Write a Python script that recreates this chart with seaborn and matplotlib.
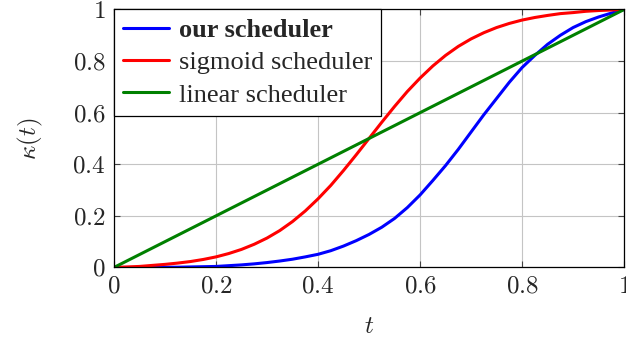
import matplotlib
matplotlib.use("Agg")
import matplotlib.pyplot as plt
import seaborn as sns
import pandas as pd

# values
t = [0.0, 0.025, 0.05, 0.075, 0.1, 0.125, 0.15, 0.175, 0.2, 0.225,
     0.25, 0.275, 0.3, 0.325, 0.35, 0.375, 0.4, 0.425, 0.45, 0.475,
     0.5, 0.525, 0.55, 0.575, 0.6, 0.625, 0.65, 0.675, 0.7, 0.725,
     0.75, 0.775, 0.8, 0.825, 0.85, 0.875, 0.9, 0.925, 0.95, 0.975, 1.0]
our = [0.0, 0.0, 0.0, 0.0, 0.001, 0.001, 0.002, 0.003, 0.004, 0.007,
       0.010, 0.014, 0.019, 0.025, 0.032, 0.041, 0.051, 0.065, 0.083, 0.104,
       0.128, 0.156, 0.190, 0.232, 0.281, 0.337, 0.395, 0.458, 0.525, 0.592,
       0.655, 0.718, 0.775, 0.822, 0.865, 0.900, 0.93, 0.953, 0.971, 0.986, 1.0]
sigmoid = [0.0, 0.002, 0.004, 0.008, 0.012, 0.017, 0.023, 0.031, 0.041, 0.054,
           0.070, 0.090, 0.114, 0.143, 0.178, 0.219, 0.266, 0.318, 0.376, 0.437,
           0.5, 0.563, 0.624, 0.682, 0.734, 0.781, 0.822, 0.857, 0.886, 0.910,
           0.930, 0.946, 0.959, 0.969, 0.977, 0.984, 0.988, 0.993, 0.996, 0.998, 1.0]
linear = [0.0, 0.025, 0.05, 0.075, 0.1, 0.125, 0.15, 0.175, 0.2, 0.225,
          0.25, 0.275, 0.3, 0.325, 0.35, 0.375, 0.4, 0.425, 0.45, 0.475,
          0.5, 0.525, 0.55, 0.575, 0.6, 0.625, 0.65, 0.675, 0.7, 0.725,
          0.75, 0.775, 0.8, 0.825, 0.85, 0.875, 0.9, 0.925, 0.95, 0.975, 1.0]

labels = ["our scheduler", "sigmoid scheduler", "linear scheduler"]
colors = ["#0000ff", "#ff0000", "#008000"]
ticks = [0, 0.2, 0.4, 0.6, 0.8, 1]
tick_labels = ["$0$", "$0.2$", "$0.4$", "$0.6$", "$0.8$", "$1$"]

sns.set_theme(style="white")
plt.rcParams["font.family"] = ["Liberation Serif", "DejaVu Serif"]
plt.rcParams["mathtext.fontset"] = "cm"

fig = plt.figure(figsize=(6.26, 3.39), dpi=100)
ax = fig.add_axes([0.182, 0.211, 0.815, 0.761])

df = pd.DataFrame({"t": t, labels[0]: our, labels[1]: sigmoid, labels[2]: linear})
for name, c in zip(labels, colors):
    sns.lineplot(data=df, x="t", y=name, color=c, lw=2.2, label=name, ax=ax)

ax.set_xlim(0, 1)
ax.set_ylim(0, 1)
ax.set_xticks(ticks)
ax.set_yticks(ticks)
ax.set_xticklabels(tick_labels, fontsize=18)
ax.set_yticklabels(tick_labels, fontsize=18)
ax.tick_params(direction="in", length=4, width=0.8, color="#444444",
               top=True, right=True, bottom=True, left=True, pad=6)
ax.grid(True, color="#c4c4c4", lw=0.8)
for s in ax.spines.values():
    s.set_color("black")
    s.set_linewidth(0.9)

ax.set_xlabel("$t$", fontsize=18, labelpad=13)
ax.set_ylabel(r"$\kappa(t)$", fontsize=18, labelpad=20)

leg = ax.legend(loc="upper left", bbox_to_anchor=(0, 1), borderaxespad=0,
                fancybox=False, framealpha=1, edgecolor="black", fontsize=19,
                handlelength=1.75, handletextpad=0.35, labelspacing=0.33,
                borderpad=0.35)
leg.get_frame().set_linewidth(0.9)
leg.get_texts()[0].set_fontweight("bold")

fig.savefig("out.png", dpi=100)
plt.close(fig)
